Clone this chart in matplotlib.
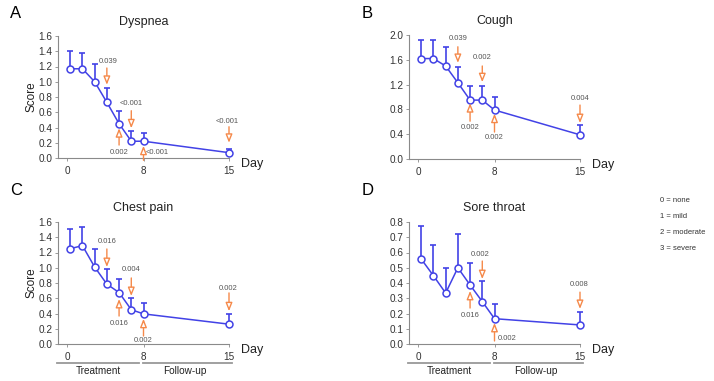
import numpy as np
import matplotlib.pyplot as plt

plt.rcParams['font.family'] = ['Liberation Sans', 'DejaVu Sans']

# visit positions on the x axis (7 treatment visits + day 15)
pos = [1, 2, 3, 4, 5, 6, 7, 14]
tick_pos = [0.75, 7, 14]
tick_lab = ['0', '8', '15']

dysp_mean = [1.17, 1.17, 1.00, 0.73, 0.45, 0.22, 0.22, 0.07]
dysp_up = [1.40, 1.38, 1.23, 0.92, 0.61, 0.36, 0.33, 0.12]
cough_mean = [1.62, 1.62, 1.50, 1.23, 0.95, 0.95, 0.79, 0.39]
cough_up = [1.92, 1.92, 1.81, 1.49, 1.18, 1.18, 1.00, 0.55]
chest_mean = [1.25, 1.29, 1.01, 0.785, 0.675, 0.45, 0.395, 0.26]
chest_up = [1.51, 1.54, 1.25, 0.99, 0.855, 0.60, 0.535, 0.395]
sore_mean = [0.557, 0.448, 0.334, 0.50, 0.387, 0.278, 0.166, 0.125]
sore_up = [0.776, 0.647, 0.498, 0.721, 0.531, 0.415, 0.26, 0.21]

# p-value arrows: (x, tail y, tip y, label, label x, label y)
dysp_arr = [(4, 1.18, 0.96, '0.039', 4.1, 1.26),
            (6, 0.62, 0.39, '<0.001', 6.0, 0.71),
            (5, 0.17, 0.39, '0.002', 5.0, 0.066),
            (7, -0.03, 0.16, '<0.001', 8.1, 0.066),
            (14, 0.41, 0.20, '<0.001', 13.85, 0.485)]
cough_arr = [(4, 1.81, 1.55, '0.039', 4.0, 1.94),
             (6, 1.50, 1.24, '0.002', 6.0, 1.63),
             (5, 0.61, 0.90, '0.002', 5.0, 0.50),
             (7, 0.435, 0.73, '0.002', 7.0, 0.34),
             (14, 0.87, 0.58, '0.004', 14.0, 0.97)]
chest_arr = [(4, 1.246, 1.01, '0.016', 4.05, 1.34),
             (6, 0.866, 0.63, '0.004', 6.0, 0.98),
             (5, 0.367, 0.59, '0.016', 5.0, 0.275),
             (7, 0.105, 0.33, '0.002', 7.0, 0.04),
             (14, 0.67, 0.43, '0.002', 13.95, 0.73)]
sore_arr = [(6, 0.544, 0.426, '0.002', 5.85, 0.59),
            (5, 0.236, 0.348, '0.016', 5.0, 0.19),
            (7, 0.02, 0.138, '0.002', 8.0, 0.033),
            (14, 0.34, 0.23, '0.008', 13.95, 0.387)]

panels = [
    ('A', 'Dyspnea', dysp_mean, dysp_up, dysp_arr, np.arange(0, 1.61, 0.2), 1.6),
    ('B', 'Cough', cough_mean, cough_up, cough_arr, np.arange(0, 2.01, 0.4), 2.0),
    ('C', 'Chest pain', chest_mean, chest_up, chest_arr, np.arange(0, 1.61, 0.2), 1.6),
    ('D', 'Sore throat', sore_mean, sore_up, sore_arr, np.arange(0, 0.81, 0.1), 0.8),
]

W, H = 714, 381
boxes = [(58, 36, 158), (409, 35, 159), (58, 222, 344), (409, 222, 344)]
letters_xy = [(10, 13), (362, 13), (10, 190), (362, 190)]

blue = '#4242e6'
orange = '#f5894a'
grey = '#8a8a8a'

fig = plt.figure(figsize=(W / 100, H / 100), dpi=100)

for i, (let, title, mean, up, arrs, yt, ymax) in enumerate(panels):
    left, top, bot = boxes[i]
    ax = fig.add_axes([left / W, 1 - bot / H, 171 / W, (bot - top) / H])
    ax.set_xlim(0, 14)
    ax.set_ylim(0, ymax)
    err = np.array(up) - np.array(mean)
    eb = ax.errorbar(pos, mean, yerr=[np.zeros(len(err)), err], fmt='none',
                     ecolor=blue, elinewidth=1.2, capsize=2, capthick=1.2, zorder=2)
    for art in eb.get_children():
        art.set_clip_on(False)
    ax.plot(pos, mean, color=blue, lw=1.1, marker='o', ms=5, mfc='white',
            mec=blue, mew=1.1, zorder=3, clip_on=False)
    for x, y0, y1, lab, lx, ly in arrs:
        ax.annotate('', xy=(x, y1), xytext=(x, y0),
                    arrowprops=dict(arrowstyle='-|>,head_length=0.5,head_width=0.2',
                                    fc='white', ec=orange, lw=1.0, shrinkA=0, shrinkB=0),
                    annotation_clip=False, zorder=4)
        ax.text(lx, ly, lab, fontsize=5.5, color='#555555', ha='center', va='center')
    for s in ['top', 'right']:
        ax.spines[s].set_visible(False)
    for s in ['left', 'bottom']:
        ax.spines[s].set_color(grey)
        ax.spines[s].set_linewidth(0.8)
    ax.set_xticks(tick_pos)
    ax.set_xticklabels(tick_lab)
    ax.set_yticks(yt)
    ax.set_yticklabels(['%.1f' % v for v in yt])
    ax.tick_params(length=2, width=0.6, color=grey, labelsize=7.2, labelcolor='#333333', pad=2)
    ax.tick_params(axis='x', pad=4)
    ax.set_title(title, fontsize=9, color='#222222', pad=8)
    ax.text(1.135, -0.05, 'Day', transform=ax.transAxes, fontsize=9, color='#222222',
            ha='center', va='center')
    if i % 2 == 0:
        ax.set_ylabel('Score', fontsize=8.5, color='#222222', labelpad=1)
    if i >= 2:
        ax.plot([-0.005, 0.474], [-0.156, -0.156], transform=ax.transAxes, color='#999999',
                lw=1.3, clip_on=False)
        ax.plot([0.497, 1.02], [-0.156, -0.156], transform=ax.transAxes, color='#999999',
                lw=1.3, clip_on=False)
        ax.text(0.234, -0.22, 'Treatment', transform=ax.transAxes, fontsize=7.2,
                color='#222222', ha='center', va='center')
        ax.text(0.74, -0.22, 'Follow-up', transform=ax.transAxes, fontsize=7.2,
                color='#222222', ha='center', va='center')
    lx, ly = letters_xy[i]
    fig.text(lx / W, 1 - ly / H, let, fontsize=12, ha='left', va='center')

legend_lines = ['0 = none', '1 = mild', '2 = moderate', '3 = severe']
for k, t in enumerate(legend_lines):
    fig.text(660 / W, 1 - (201 + 16 * k) / H, t, fontsize=5.5, color='#333333',
             ha='left', va='center')

fig.savefig('out.png', dpi=100)
